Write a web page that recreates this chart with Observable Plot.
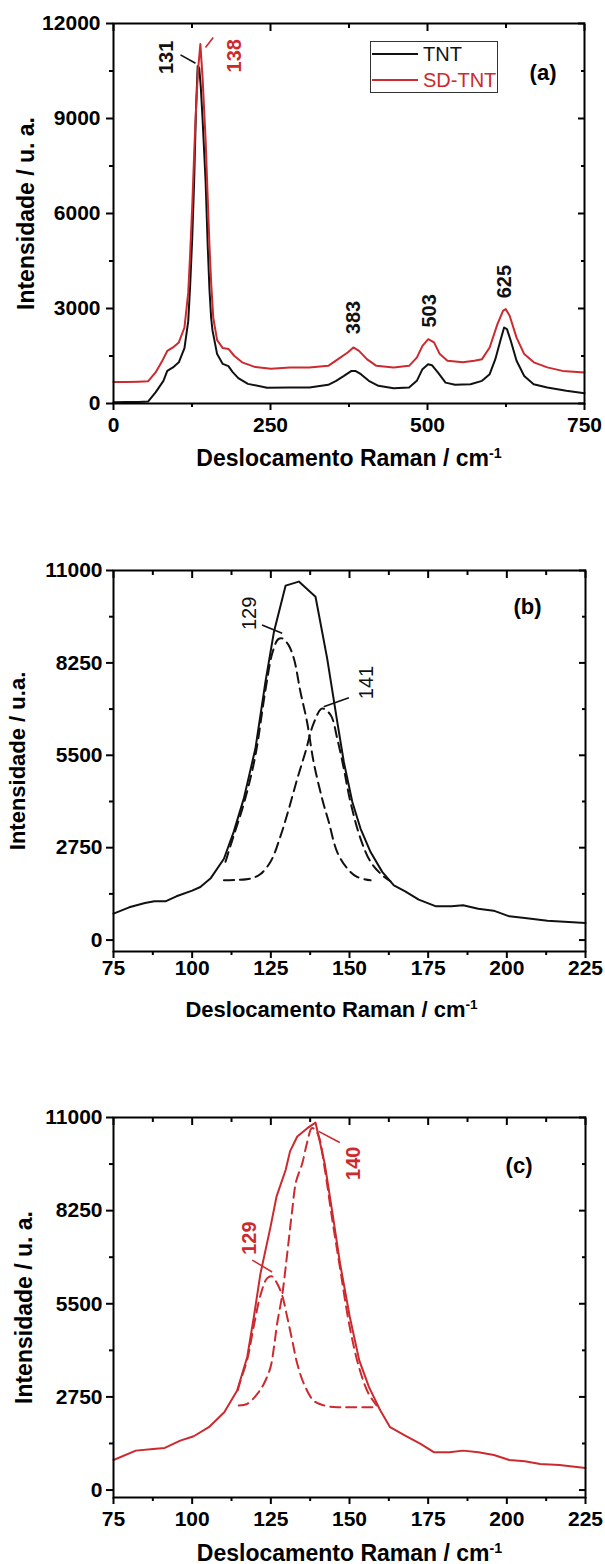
<!DOCTYPE html>
<html><head><meta charset="utf-8">
<script src="https://cdn.jsdelivr.net/npm/d3@7"></script>
<script src="https://cdn.jsdelivr.net/npm/@observablehq/plot@0.6"></script>
<style>
body{margin:0;background:#fff}
#wrap{position:relative;width:605px;height:1564px;font-family:'Liberation Sans',Arial,sans-serif}
#wrap svg{display:block}
.lg{position:absolute}
</style>
</head><body><div id="wrap"></div>
<script>
// ---------- Panel (a) data ----------
const aTntX = [0,20,40,55,67,79.5,85.6,94.7,104,113,119,122,125.3,128.4,131.4,134,136.5,139,141.8,146.7,150,152.8,155.5,157.7,165,174,183,189.5,198.7,214,244.5,281,312,342,354.5,367,379,385,394,406.5,421.8,446,470.7,483,492,501,507,516.5,528.7,544,568.5,586.8,599,608,616,622,626.5,632.6,641.8,654,669,690.7,721,750];
const aTntY = [40,45,50,60,350,715,1030,1140,1300,1750,2600,3700,5200,7000,9300,10650,10600,10000,9000,7000,5000,3600,2700,2300,1560,1250,1180,1000,800,620,500,505,505,590,715,870,1030,1030,925,715,560,480,505,715,1085,1240,1210,980,660,590,610,715,925,1400,1980,2400,2350,1980,1350,870,610,505,400,325];
const aSdX = [0,20,40,55,67,76.4,85.6,94.7,104,113,119,122,125.3,130.2,134.5,138.3,141.8,146.7,150,152.8,155.5,158.9,165,174,183.4,192.5,204.8,226,250.6,281,311.7,342,357.6,372.9,382,391,403.4,418.7,446,470.7,483,492,501.2,510.4,519.6,531.8,556.2,574.6,586.8,599,611.2,620.4,624.7,630.8,641.8,654,669.3,690.7,715,750];
const aSdY = [680,680,690,700,980,1300,1660,1770,1930,2400,3500,4700,6200,8800,10500,11350,10300,8300,6500,5000,3800,2700,2000,1750,1720,1500,1300,1150,1100,1140,1140,1190,1400,1610,1770,1660,1400,1190,1140,1190,1450,1820,2030,1930,1560,1350,1300,1350,1400,1770,2500,2930,2980,2770,2080,1560,1300,1140,1030,980];
const aLabels = [
  {x:84, y:10930, t:"131", c:"black"},
  {x:193, y:10980, t:"138", c:"red"},
  {x:383, y:2716, t:"383", c:"black"},
  {x:504, y:2926, t:"503", c:"black"},
  {x:623.5, y:3850, t:"625", c:"black"}
];
const aLeaders = [
  {x1:106.7, y1:11010, x2:130.6, y2:10745, c:"black"},
  {x1:146.5, y1:11240, x2:158.8, y2:11560, c:"red"}
];
const aXTicks = [0,250,500,750], aXMinor = [125,375,625];
const aYTicks = [0,3000,6000,9000,12000], aYMinor = [1500,4500,7500,10500];

// ---------- Panel (b) data ----------
const bX = [75,80,85,88,91.5,95,100,102.6,105.8,110.1,113.2,116.4,120.1,123.3,126,129.7,133.9,139.2,142.9,146.1,148.2,150.9,153.5,156.7,160.4,164.1,167.7,172,177.5,182.4,186.1,190.9,195.8,200.8,205.7,212.9,225];
const bY = [786,975,1104,1154,1154,1303,1472,1580,1830,2420,3220,4210,5700,7690,9180,10550,10670,10220,8385,6500,5300,4110,3320,2620,2030,1630,1452,1203,1004,1004,1034,935,875,706,656,577,507];
const b129X = [110.6,113,116.4,120,123.3,125.5,127.3,128.6,130.5,132.3,134.4,136.5,138.6,141.3,143.4,146.1,149.3,152.4,156.7];
const b129Y = [2330,3050,4050,5450,7450,8550,8950,8980,8800,8390,7390,6500,5300,4210,3520,2620,2130,1880,1780];
const b141X = [110.1,114,118.5,121.5,124.9,128.1,130.7,133.4,136,138.6,141.3,144,146.1,148.2,150.3,153.5,156.7,160.4,163];
const b141Y = [1780,1790,1830,1950,2330,3100,3900,4800,5600,6450,6890,6700,6000,5100,4110,3020,2330,1930,1750];
const bLabels = [{x:118.3, y:9725, t:"129"}, {x:155.3, y:7666, t:"141"}];
const bLeaders = [{x1:122.2, y1:9380, x2:128.6, y2:9130}, {x1:141.8, y1:6945, x2:149.8, y2:7213}];

// ---------- Panel (c) data ----------
const cX = [75,82.1,87.6,91.3,96.2,100.5,105.3,110.2,114.3,117.5,119.6,121.7,124.9,126.8,129.7,131.1,133.4,136.6,139.2,142.1,144.6,147,150.1,153.1,156.2,159.8,162.9,167.7,172.6,176.9,181.8,186.1,191,195.9,200.8,205.7,210.6,216.7,225];
const cY = [888,1164,1213,1243,1460,1588,1855,2299,2940,3930,5110,6390,7770,8662,9450,10000,10440,10685,10850,9649,8169,6689,5110,3828,3039,2348,1855,1608,1361,1115,1115,1164,1115,1036,888,848,770,740,651];
const c129X = [114.5,115.4,117.5,119.6,121.7,123.8,125.4,127,128.6,130.2,131.8,133.4,135.5,138.6,141.8,146.1,150,158];
const c129Y = [2950,3240,3850,4850,5750,6250,6310,6100,5750,5110,4420,3730,3140,2640,2500,2445,2445,2445];
const c140X = [114.8,117.5,120.7,122.8,124.9,126,127,128.6,129.6,130.7,131.8,133,135,136.5,138.1,140,142.1,144.5,147,150,153.1,156.1,158.6];
const c140Y = [2500,2545,2840,3140,3630,4220,4910,5750,6490,7380,8270,9100,9650,10250,10690,10500,9500,8000,6550,4850,3600,2840,2500];
const cLabels = [{x:118.3, y:7440, t:"129"}, {x:151.4, y:9650, t:"140"}];
const cLeaders = [{x1:119.1, y1:6790, x2:125.4, y2:6440}, {x1:140.2, y1:10590, x2:146.9, y2:10260}];

const bcXTicks = [75,100,125,150,175,200,225], bcXMinor = [87.5,112.5,137.5,162.5,187.5,212.5];
const bcYTicks = [0,2750,5500,8250,11000], bcYMinor = [1375,4125,6875,9625];

const seriesNames = ["TNT","SD-TNT"];
// -------------------------------------------

const RED = "#cc2a2e", BLACK = "#111";
const FONT = "'Liberation Sans', Arial, Helvetica, sans-serif";
const zip = (xs, ys) => xs.map((x, i) => ({x, y: ys[i]}));
const colorOf = c => c === "red" ? RED : BLACK;

function axes(xT, xM, yT, yM, xPad, yPad) {
  const blank = () => "";
  return [
    Plot.axisX(xT, {anchor:"bottom", tickSize:7, tickPadding:xPad, tickFormat:d => String(d), fontSize:21, fontWeight:"bold", label:null, strokeWidth:2}),
    Plot.axisX(xM, {anchor:"bottom", tickSize:4, tickFormat:blank, label:null, strokeWidth:2}),
    Plot.axisX(xT, {anchor:"top", tickSize:-7, tickFormat:blank, label:null, strokeWidth:2}),
    Plot.axisX(xM, {anchor:"top", tickSize:-4, tickFormat:blank, label:null, strokeWidth:2}),
    Plot.axisY(yT, {anchor:"left", tickSize:7, tickPadding:yPad, tickFormat:d => String(d), fontSize:21, fontWeight:"bold", label:null, strokeWidth:2}),
    Plot.axisY(yM, {anchor:"left", tickSize:4, tickFormat:blank, label:null, strokeWidth:2}),
    Plot.axisY(yT, {anchor:"right", tickSize:-7, tickFormat:blank, label:null, strokeWidth:2}),
    Plot.axisY(yM, {anchor:"right", tickSize:-4, tickFormat:blank, label:null, strokeWidth:2})
  ];
}

function titles(xTitle, yTitle, o) {
  return [
    Plot.text([xTitle], {text: d => d, frameAnchor:"bottom", textAnchor:"middle", dx:o.xdx, dy:o.xdy, lineAnchor:"bottom", fontSize:o.fs, fontWeight:"bold", fill:"#000"}),
    Plot.text([yTitle], {text: d => d, frameAnchor:"left", textAnchor:"middle", rotate:-90, dx:o.ydx, lineAnchor:"middle", fontSize:o.fs, fontWeight:"bold", fill:"#000"}),
    Plot.text([o.letter], {text: d => d, frameAnchor:"top-right", textAnchor:"end", lineAnchor:"middle", dx:o.ldx, dy:o.ldy, fontSize:22, fontWeight:"bold", fill:"#000"})
  ];
}

function fixSup(svg) {
  d3.select(svg).selectAll("text").each(function() {
    const el = d3.select(this);
    if (this.childElementCount === 0 && this.textContent.endsWith("cm-1")) {
      el.text(this.textContent.slice(0, -2));
      el.append("tspan").attr("dy", "-0.55em").attr("font-size", "0.62em").text("-1");
    }
  });
}

const wrap = document.getElementById("wrap");
const common = {width:605, style:{fontFamily:FONT, fontSize:"20px", color:"#000", background:"#fff", overflow:"visible"}};

// Panel (a)
const plotA = Plot.plot({
  ...common, height:480, marginTop:23, marginBottom:77, marginLeft:113, marginRight:21,
  x:{domain:[0,750]}, y:{domain:[0,12000]},
  marks:[
    Plot.line(zip(aTntX, aTntY), {x:"x", y:"y", stroke:BLACK, strokeWidth:2}),
    Plot.line(zip(aSdX, aSdY), {x:"x", y:"y", stroke:RED, strokeWidth:2}),
    Plot.link(aLeaders, {x1:"x1", y1:"y1", x2:"x2", y2:"y2", stroke: d => colorOf(d.c), strokeWidth:1.6}),
    Plot.text(aLabels, {x:"x", y:"y", text:"t", rotate:-90, fill: d => colorOf(d.c), fontSize:20, fontWeight:"bold"}),
    ...axes(aXTicks, aXMinor, aYTicks, aYMinor, 7, 6),
    Plot.frame({stroke:"#000", strokeWidth:2}),
    ...titles("Deslocamento Raman / cm-1", "Intensidade / u. a.", {xdx:0, xdy:62, ydx:-87, fs:23, letter:"(a)", ldx:-28, ldy:49})
  ]
});
fixSup(plotA); wrap.appendChild(plotA);

// Panel (b)
const plotB = Plot.plot({
  ...common, height:555, marginTop:90, marginBottom:84, marginLeft:113, marginRight:20,
  x:{domain:[75,225]}, y:{domain:[-340,11000]},
  marks:[
    Plot.line(zip(bX, bY), {x:"x", y:"y", stroke:BLACK, strokeWidth:2}),
    Plot.line(zip(b129X, b129Y), {x:"x", y:"y", stroke:BLACK, strokeWidth:2, strokeDasharray:"10,6", curve:"catmull-rom"}),
    Plot.line(zip(b141X, b141Y), {x:"x", y:"y", stroke:BLACK, strokeWidth:2, strokeDasharray:"10,6", curve:"catmull-rom"}),
    Plot.link(bLeaders, {x1:"x1", y1:"y1", x2:"x2", y2:"y2", stroke:BLACK, strokeWidth:1.6}),
    Plot.text(bLabels, {x:"x", y:"y", text:"t", rotate:-90, fill:BLACK, fontSize:20}),
    ...axes(bcXTicks, bcXMinor, bcYTicks, bcYMinor, 2, 4),
    Plot.frame({stroke:"#000", strokeWidth:2}),
    ...titles("Deslocamento Raman / cm-1", "Intensidade / u.a.", {xdx:-18, xdy:65, ydx:-96, fs:22, letter:"(b)", ldx:-44, ldy:36})
  ]
});
fixSup(plotB); wrap.appendChild(plotB);

// Panel (c)
const plotC = Plot.plot({
  ...common, height:529, marginTop:82, marginBottom:67, marginLeft:113, marginRight:20,
  x:{domain:[75,225]}, y:{domain:[-220,11000]},
  marks:[
    Plot.line(zip(cX, cY), {x:"x", y:"y", stroke:RED, strokeWidth:2}),
    Plot.line(zip(c129X, c129Y), {x:"x", y:"y", stroke:RED, strokeWidth:2, strokeDasharray:"10,6", curve:"catmull-rom"}),
    Plot.line(zip(c140X, c140Y), {x:"x", y:"y", stroke:RED, strokeWidth:2, strokeDasharray:"10,6", curve:"catmull-rom"}),
    Plot.link(cLeaders, {x1:"x1", y1:"y1", x2:"x2", y2:"y2", stroke:RED, strokeWidth:1.6}),
    Plot.text(cLabels, {x:"x", y:"y", text:"t", rotate:-90, fill:RED, fontSize:20, fontWeight:"bold"}),
    ...axes(bcXTicks, bcXMinor, bcYTicks, bcYMinor, 7, 4),
    Plot.frame({stroke:"#000", strokeWidth:2}),
    ...titles("Deslocamento Raman / cm-1", "Intensidade / u. a.", {xdx:0, xdy:63, ydx:-89, fs:23, letter:"(c)", ldx:-53, ldy:48})
  ]
});
fixSup(plotC); wrap.appendChild(plotC);

// Legend for panel (a)
const lg = document.createElement("div");
lg.className = "lg";
lg.style.cssText = "left:370px;top:41px;width:128px;height:52px;border:1.5px solid #333;box-sizing:border-box;background:#fff";
wrap.appendChild(lg);
[[seriesNames[0], BLACK, 53.3], [seriesNames[1], RED, 79]].forEach(([name, col, ly]) => {
  const sw = document.createElement("div");
  sw.className = "lg";
  sw.style.cssText = `left:372px;top:${ly}px;width:46px;height:2px;background:${col}`;
  wrap.appendChild(sw);
  const tx = document.createElement("div");
  tx.className = "lg";
  tx.textContent = name;
  tx.style.cssText = `left:423px;top:${ly - 9.5}px;font-size:20px;line-height:20px;color:${col};font-family:${FONT}`;
  wrap.appendChild(tx);
});
</script>
</body></html>
